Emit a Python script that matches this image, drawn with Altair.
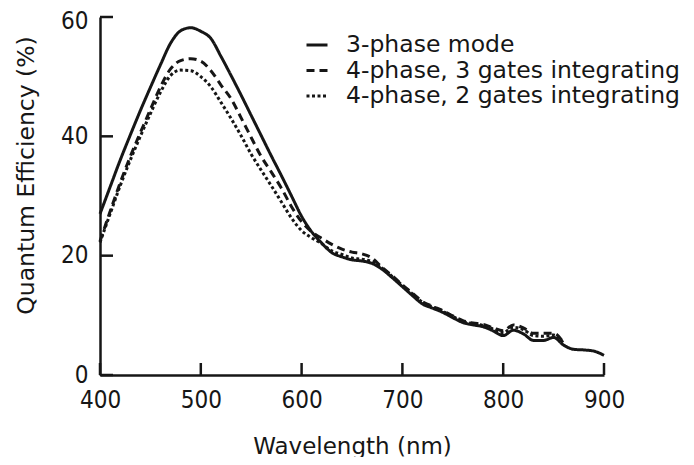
import altair as alt
import pandas as pd

series_names = ["3-phase mode", "4-phase, 3 gates integrating", "4-phase, 2 gates integrating"]

wl_3p = [400, 410, 420, 430, 440, 450, 460, 470, 480, 490, 500, 510, 520, 530, 540, 550,
         560, 570, 580, 590, 600, 610, 620, 630, 640, 650, 660, 670, 680, 690, 700, 710,
         720, 730, 740, 750, 760, 770, 780, 790, 800, 810, 820, 830, 840, 850, 860, 870,
         880, 890, 900]
qe_3p = [27.0, 31.5, 36.0, 40.2, 44.3, 48.2, 52.0, 55.6, 57.7, 58.2, 57.6, 56.4, 53.4, 50.2,
         46.9, 43.5, 40.1, 36.7, 33.4, 30.0, 26.6, 24.0, 22.1, 20.5, 19.8, 19.3, 19.1, 18.7,
         17.7, 16.3, 14.8, 13.3, 11.9, 11.2, 10.5, 9.6, 8.8, 8.4, 8.1, 7.4, 6.6, 7.5, 6.9,
         5.8, 5.8, 6.3, 5.0, 4.3, 4.2, 4.0, 3.3]

wl_4p = [400, 410, 420, 430, 440, 450, 460, 470, 480, 490, 500, 510, 520, 530, 540, 550,
         560, 570, 580, 590, 600, 610, 620, 630, 640, 650, 660, 670, 680, 690, 700, 710,
         720, 730, 740, 750, 760, 770, 780, 790, 800, 810, 820, 830, 840, 850, 860]
qe_4p3 = [22.4, 27.4, 32.2, 36.6, 40.6, 44.5, 48.3, 51.3, 52.7, 53.0, 52.6, 51.0, 48.6, 46.3,
          43.1, 39.8, 36.6, 34.0, 31.3, 28.2, 25.7, 24.0, 22.9, 21.9, 21.1, 20.6, 20.3, 19.6,
          18.0, 16.6, 15.1, 13.7, 12.3, 11.5, 10.8, 9.9, 9.1, 8.7, 8.5, 7.9, 7.4, 8.4, 7.9,
          7.0, 7.0, 7.0, 5.4]
qe_4p2 = [22.2, 27.0, 31.7, 36.0, 40.0, 43.8, 47.4, 50.2, 51.1, 51.0, 50.0, 48.3, 45.7, 43.0,
          40.1, 37.0, 34.3, 31.7, 29.0, 26.3, 24.2, 23.0, 22.0, 20.8, 20.2, 19.6, 19.4, 19.0,
          17.9, 16.5, 15.0, 13.6, 12.2, 11.4, 10.7, 9.8, 9.0, 8.6, 8.3, 7.7, 7.1, 8.0, 7.6,
          6.6, 6.5, 6.7, 5.3]

x_ticks = [400, 500, 600, 700, 800, 900]
y_ticks = [0, 20, 40, 60]

rows = []
for name, wl, qe in [(series_names[2], wl_4p, qe_4p2),
                     (series_names[1], wl_4p, qe_4p3),
                     (series_names[0], wl_3p, qe_3p)]:
    rows += [{"series": name, "wl": w, "qe": q} for w, q in zip(wl, qe)]
df = pd.DataFrame(rows)

INK = "#161616"
TXT = "DejaVu Sans"
NUM = "DejaVu Sans Condensed, Liberation Sans"

xs = alt.Scale(domain=[400, 900], nice=False, zero=False)
ys = alt.Scale(domain=[0, 60], nice=False, zero=False)

x_axis = alt.Axis(
    values=x_ticks, title="Wavelength (nm)", grid=False, ticks=False, tickSize=0,
    domainColor=INK, domainWidth=2.5, labelFont=NUM, labelFontSize=24, labelColor=INK,
    labelBaseline="alphabetic", labelPadding=32, labelFlush=False,
    titleFont=TXT, titleFontSize=23, titleFontWeight="normal", titleColor=INK,
    titleBaseline="alphabetic", titleY=78, titleX=252)
y_axis = alt.Axis(
    values=y_ticks, title="Quantum Efficiency (%)", grid=False, ticks=False, tickSize=0,
    domainColor=INK, domainWidth=2.5, labelFont=NUM, labelFontSize=24, labelColor=INK,
    labelPadding=12, labelFlush=False,
    labelOffset={"condition": {"test": "datum.value == 60", "value": 4}, "value": 0},
    titleFont=TXT, titleFontSize=23.5, titleFontWeight="normal", titleColor=INK,
    titleBaseline="alphabetic", titleX=-67, titleY=158, titleAngle=270)

lines = alt.Chart(df).mark_line(
    color=INK, strokeWidth=3, interpolate="monotone", strokeCap="butt"
).encode(
    x=alt.X("wl:Q", scale=xs, axis=x_axis),
    y=alt.Y("qe:Q", scale=ys, axis=y_axis),
    strokeDash=alt.StrokeDash("series:N", scale=alt.Scale(
        domain=series_names, range=[[1, 0], [8, 5], [3, 2.5]]),
        legend=alt.Legend(
            title=None, orient="none", legendX=205, legendY=16, padding=0,
            symbolType="stroke", symbolSize=441, symbolStrokeWidth=3,
            symbolStrokeColor=INK, labelFont=TXT, labelFontSize=23.5, labelColor=INK,
            labelOffset=17, labelLimit=600, rowPadding=1.5)),
)

ytick = alt.Chart(pd.DataFrame({"v": y_ticks})).mark_rule(color=INK, strokeWidth=2.5).encode(
    y=alt.Y("v:Q", scale=ys, axis=y_axis), x=alt.value(0), x2=alt.value(13))
xtick = alt.Chart(pd.DataFrame({"v": x_ticks})).mark_rule(color=INK, strokeWidth=2.5).encode(
    x=alt.X("v:Q", scale=xs, axis=x_axis), y=alt.value(358), y2=alt.value(346))

chart = alt.layer(lines, ytick, xtick).properties(
    width=504, height=358,
    background="white",
    autosize=alt.AutoSizeParams(type="none"),
    padding={"left": 92, "top": 9, "right": 82, "bottom": 82},
).configure_view(stroke="transparent", strokeWidth=0)

chart.save("out.html", embed_options={"renderer": "svg", "actions": False})
